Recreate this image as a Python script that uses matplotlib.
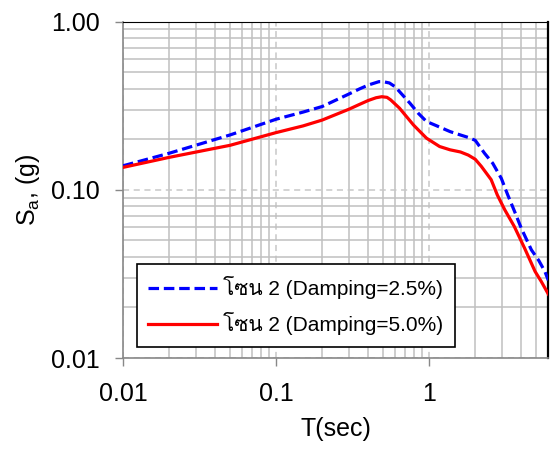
import numpy as np
import matplotlib
matplotlib.use('Agg')
import matplotlib.pyplot as plt
from matplotlib import font_manager as fm
from matplotlib.ft2font import FT2Font
from matplotlib.ticker import FixedLocator, FixedFormatter, LogLocator, NullFormatter

# ค่าที่อ่านจากกราฟ (log-log)
t_25 = [0.01, 0.02, 0.05, 0.1, 0.15, 0.2, 0.3, 0.35, 0.4, 0.47, 0.5, 0.55, 0.6,
        0.65, 0.75, 0.85, 0.96, 1.1, 1.37, 1.6, 1.8, 2.0, 2.3, 2.6, 2.96, 3.26,
        3.6, 4.0, 4.65, 5.2, 5.7, 6.0]
sa_25 = [0.139, 0.165, 0.212, 0.263, 0.29, 0.313, 0.372, 0.398, 0.42, 0.44, 0.44,
         0.432, 0.41, 0.378, 0.327, 0.285, 0.255, 0.242, 0.222, 0.212, 0.205, 0.197,
         0.165, 0.144, 0.117, 0.0933, 0.075, 0.059, 0.044, 0.038, 0.0327, 0.029]

t_50 = [0.01, 0.02, 0.05, 0.1, 0.15, 0.2, 0.3, 0.35, 0.4, 0.45, 0.49, 0.53, 0.56,
        0.64, 0.79, 0.96, 1.17, 1.37, 1.6, 1.8, 2.0, 2.19, 2.54, 2.79, 3.12, 3.6,
        4.2, 4.92, 5.4, 6.0]
sa_50 = [0.136, 0.156, 0.184, 0.219, 0.24, 0.26, 0.302, 0.322, 0.34, 0.353, 0.358,
         0.355, 0.343, 0.306, 0.243, 0.203, 0.181, 0.173, 0.168, 0.161, 0.152, 0.138,
         0.115, 0.093, 0.076, 0.0605, 0.045, 0.0327, 0.0285, 0.024]

labels = ['โซน 2 (Damping=2.5%)', 'โซน 2 (Damping=5.0%)']
x_ticks = [0.01, 0.1, 1]
x_ticklabels = ['0.01', '0.1', '1']
y_ticks = [0.01, 0.1, 1]
y_ticklabels = ['0.01', '0.10', '1.00']


def find_thai_font():
    # หาฟอนต์ที่มีตัวอักษรไทย
    for f in fm.fontManager.ttflist:
        try:
            ft = FT2Font(f.fname)
            if ft.get_char_index(ord('ซ')) and ft.get_char_index(ord('โ')):
                return f.name
        except Exception:
            pass
    return None


thai = find_thai_font()
fams = ['Liberation Sans'] + ([thai] if thai else []) + ['DejaVu Sans']
plt.rcParams['font.family'] = fams

fig = plt.figure(figsize=(5.53, 4.5), dpi=100)
ax = fig.add_axes([0.2224, 0.2044, 0.7691, 0.7474])
ax.set_xscale('log')
ax.set_yscale('log')

ax.plot(t_25, sa_25, color='#0000ff', lw=2.3, ls=(0, (3.3, 1.5)), label=labels[0], zorder=3)
ax.plot(t_50, sa_50, color='#ff0000', lw=2.3, label=labels[1], zorder=4)

ax.set_xlim(0.01, 6)
ax.set_ylim(0.01, 1)

ax.xaxis.set_major_locator(FixedLocator(x_ticks))
ax.xaxis.set_major_formatter(FixedFormatter(x_ticklabels))
ax.yaxis.set_major_locator(FixedLocator(y_ticks))
ax.yaxis.set_major_formatter(FixedFormatter(y_ticklabels))
for a in (ax.xaxis, ax.yaxis):
    a.set_minor_locator(LogLocator(base=10, subs=np.arange(2, 10), numticks=30))
    a.set_minor_formatter(NullFormatter())

ax.set_axisbelow(True)
ax.grid(which='minor', color='#c0c0c0', lw=1.1, ls='-')
ax.grid(which='major', color='#c8c8c8', lw=1.1, ls=(0, (4, 3)))

ax.tick_params(which='major', direction='out', length=6, width=1, color='#888888',
               labelsize=18, pad=11)
ax.tick_params(which='minor', length=0)

for s in ('left', 'bottom'):
    ax.spines[s].set_color('#888888')
    ax.spines[s].set_linewidth(1.2)
ax.spines['top'].set_color('black')
ax.spines['top'].set_linewidth(0.8)
ax.spines['right'].set_color('black')
ax.spines['right'].set_linewidth(1.6)

ax.set_xlabel('T(sec)', fontsize=18, labelpad=8)
ax.set_ylabel(r'S$_\mathregular{a}$, (g)', fontsize=18, labelpad=6)

leg = ax.legend(loc='lower left', bbox_to_anchor=(0.033, 0.033), borderaxespad=0,
                fancybox=False, edgecolor='black', framealpha=1,
                prop={'family': fams, 'size': 15},
                handlelength=3.3, handletextpad=0.3, labelspacing=0.65, borderpad=0.55)
leg.get_frame().set_linewidth(1.2)

fig.savefig('out.png', dpi=100)
